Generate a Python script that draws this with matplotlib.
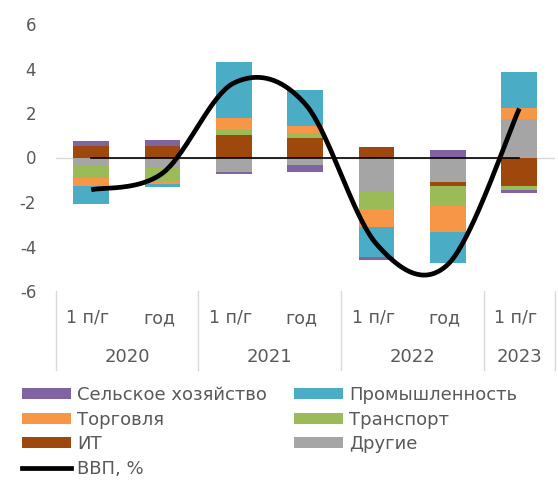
import numpy as np
import matplotlib
matplotlib.use('Agg')
import matplotlib.pyplot as plt
from matplotlib.patches import Patch
from matplotlib.lines import Line2D

plt.rcParams['font.family'] = ['DejaVu Sans']
plt.rcParams['axes.unicode_minus'] = False

periods = ['1 п/г', 'год', '1 п/г', 'год', '1 п/г', 'год', '1 п/г']
years = ['2020', '2021', '2022', '2023']
year_spans = [2, 2, 2, 1]

agri = [0.23, 0.30, -0.10, -0.33, -0.12, 0.35, -0.12]
industry = [-0.80, -0.15, 2.49, 1.60, -1.37, -1.42, 1.61]
trade = [-0.36, -0.12, 0.54, 0.33, -0.79, -1.15, 0.52]
transport = [-0.55, -0.60, 0.25, 0.22, -0.75, -0.90, -0.21]
it = [0.50, 0.50, 0.99, 0.88, 0.45, -0.19, -1.27]
other = [-0.36, -0.45, -0.66, -0.33, -1.57, -1.10, 1.72]
gdp = [-1.45, -0.7, 3.35, 2.4, -3.9, -4.8, 2.2]

colors = {'Сельское хозяйство': '#8064A2', 'Промышленность': '#4BACC6', 'Торговля': '#F79646',
          'Транспорт': '#9BBB59', 'ИТ': '#9E480E', 'Другие': '#A5A5A5'}
series = {'Сельское хозяйство': agri, 'Промышленность': industry, 'Торговля': trade,
          'Транспорт': transport, 'ИТ': it, 'Другие': other}
stack_order = ['Другие', 'ИТ', 'Транспорт', 'Торговля', 'Промышленность', 'Сельское хозяйство']

W, H = 558, 482
fig = plt.figure(figsize=(W / 100, H / 100), dpi=100)
left, right, top, bottom = 55.6, 555, 24, 291
ax = fig.add_axes([left / W, 1 - bottom / H, (right - left) / W, (bottom - top) / H])

x = np.arange(len(periods))
pos_b = np.zeros(len(x))
neg_b = np.zeros(len(x))
for n in stack_order:
    v = np.array(series[n], dtype=float)
    b = np.where(v >= 0, pos_b, neg_b)
    ax.bar(x, v, width=0.5, bottom=b, color=colors[n], linewidth=0, zorder=2)
    pos_b += np.where(v >= 0, v, 0)
    neg_b += np.where(v < 0, v, 0)

ax.axhline(0, color='#D9D9D9', lw=1.0, zorder=1)
ax.plot(x, np.zeros(len(x)), color='black', lw=1.2, zorder=3)

# smoothed GDP line (Excel-like Bezier smoothing)
P = np.column_stack([x, gdp]).astype(float)
n = len(P)
pts = []
for i in range(n - 1):
    p0, p1 = P[i], P[i + 1]
    pm = P[i - 1] if i > 0 else P[i]
    pp = P[i + 2] if i + 2 < n else P[i + 1]
    c1 = p0 + (p1 - pm) / 6
    c2 = p1 - (pp - p0) / 6
    t = np.linspace(0, 1, 40)[:, None]
    seg = (1 - t) ** 3 * p0 + 3 * (1 - t) ** 2 * t * c1 + 3 * (1 - t) * t ** 2 * c2 + t ** 3 * p1
    pts.append(seg if i == 0 else seg[1:])
curve = np.vstack(pts)
ax.plot(curve[:, 0], curve[:, 1], color='black', lw=3.4, zorder=4, solid_capstyle='butt')

ax.set_xlim(-0.5, len(x) - 0.5)
ax.set_ylim(-6, 6)
ax.set_yticks([-6, -4, -2, 0, 2, 4, 6])
ax.tick_params(axis='y', length=0, pad=14, labelsize=12, labelcolor='#595959')
ax.set_xticks([])
for s in ax.spines.values():
    s.set_visible(False)

tr = ax.get_xaxis_transform()
txt = '#595959'
for i, p in enumerate(periods):
    ax.text(i - 0.05, -0.101, p, transform=tr, ha='center', va='center', fontsize=12.5, color=txt)
start = 0
seps = [-0.5]
for y, sp in zip(years, year_spans):
    ax.text(start + (sp - 1) / 2, -0.247, y, transform=tr, ha='center', va='center', fontsize=13, color=txt)
    start += sp
    seps.append(start - 0.5)
for s in seps:
    ax.plot([s, s], [0, -0.296], transform=tr, color='#D9D9D9', lw=1.0, clip_on=False)

handles = [Patch(facecolor=colors['Сельское хозяйство']), Patch(facecolor=colors['Торговля']),
           Patch(facecolor=colors['ИТ']), Line2D([0], [0], color='black', lw=3.4),
           Patch(facecolor=colors['Промышленность']), Patch(facecolor=colors['Транспорт']),
           Patch(facecolor=colors['Другие'])]
labels = ['Сельское хозяйство', 'Торговля', 'ИТ', 'ВВП, %', 'Промышленность', 'Транспорт', 'Другие']
fig.legend(handles, labels, ncol=2, loc='upper left', bbox_to_anchor=(13 / W, 1 - 377 / H),
           frameon=False, fontsize=13, handlelength=2.7, handleheight=0.55, handletextpad=0.35,
           columnspacing=1.5, labelspacing=0.36, borderpad=0, labelcolor=txt)

fig.savefig('out.png', dpi=100)
